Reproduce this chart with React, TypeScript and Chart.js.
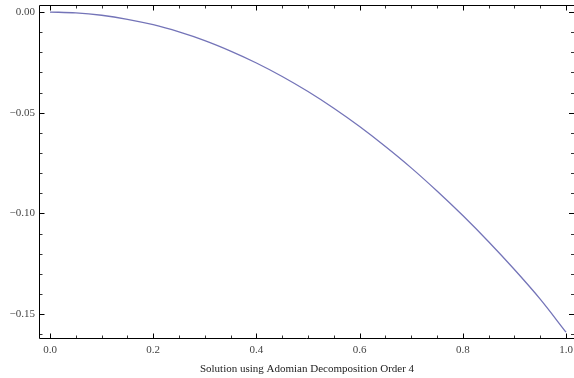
import { useEffect, useRef } from "react";
import { Chart, registerables } from "chart.js";

Chart.register(...registerables);

const xValues = [0, 0.05, 0.1, 0.15, 0.2, 0.25, 0.3, 0.35, 0.4, 0.45, 0.5, 0.55, 0.6, 0.65, 0.7, 0.75, 0.8, 0.85, 0.9, 0.95, 1.0];
const yValues = [0, -0.0004, -0.0016, -0.0036, -0.0063, -0.0099, -0.0142, -0.0194, -0.0253, -0.032, -0.0395, -0.0478, -0.0569, -0.0668, -0.0774, -0.0889, -0.1011, -0.1141, -0.1279, -0.1426, -0.159];

const xMajorTicks = [0, 0.2, 0.4, 0.6, 0.8, 1.0];
const xMinorTicks = [0.05, 0.1, 0.15, 0.25, 0.3, 0.35, 0.45, 0.5, 0.55, 0.65, 0.7, 0.75, 0.85, 0.9, 0.95];
const yMajorTicks = [0, -0.05, -0.1, -0.15];
const yMinorTicks = [-0.01, -0.02, -0.03, -0.04, -0.06, -0.07, -0.08, -0.09, -0.11, -0.12, -0.13, -0.14, -0.16];

const xAxisTitle = "Solution using Adomian Decomposition Order 4";

const fmt = (v: number, d: number) => {
  const s = Math.abs(v) < 1e-9 ? (0).toFixed(d) : v.toFixed(d);
  return s.replace("-", "\u2212");
};

const framePlugin = {
  id: "frame",
  afterDraw(chart: any) {
    const { ctx, chartArea } = chart;
    const xs = chart.scales.x;
    const ys = chart.scales.y;
    const L = Math.round(chartArea.left) - 0.5;
    const T = Math.round(chartArea.top) + 0.5;
    const B = Math.round(chartArea.bottom) - 0.5;
    const R = chart.width;
    ctx.save();
    ctx.strokeStyle = "#000";
    ctx.lineWidth = 1;
    ctx.beginPath();
    ctx.moveTo(L, T);
    ctx.lineTo(R, T);
    ctx.moveTo(L, T);
    ctx.lineTo(L, B);
    ctx.lineTo(R, B);
    ctx.stroke();

    const drawX = (vals: number[], len: number) => {
      vals.forEach((v) => {
        const p = Math.round(xs.getPixelForValue(v)) + 0.5;
        ctx.moveTo(p, B);
        ctx.lineTo(p, B - len);
        ctx.moveTo(p, T);
        ctx.lineTo(p, T + len);
      });
    };
    const drawY = (vals: number[], len: number) => {
      vals.forEach((v) => {
        const p = Math.round(ys.getPixelForValue(v)) + 0.5;
        ctx.moveTo(L, p);
        ctx.lineTo(L + len, p);
        ctx.moveTo(R, p);
        ctx.lineTo(R - len, p);
      });
    };
    ctx.beginPath();
    ctx.lineWidth = 1;
    drawX(xMajorTicks, 5);
    drawY(yMajorTicks, 5);
    ctx.stroke();
    ctx.beginPath();
    ctx.lineWidth = 0.8;
    drawX(xMinorTicks, 3);
    drawY(yMinorTicks, 3);
    ctx.stroke();
    ctx.restore();
  },
};

export default function App() {
  const ref = useRef<HTMLCanvasElement | null>(null);

  useEffect(() => {
    document.body.style.margin = "0";
    const canvas = ref.current;
    if (!canvas) return;
    const font = { family: "'Liberation Serif', 'Times New Roman', serif", size: 11 };
    const chart = new Chart(canvas, {
      type: "scatter",
      data: {
        datasets: [
          {
            data: xValues.map((x, i) => ({ x, y: yValues[i] })),
            showLine: true,
            borderColor: "#7474b8",
            borderWidth: 1.3,
            pointRadius: 0,
            cubicInterpolationMode: "monotone",
            fill: false,
          },
        ],
      },
      options: {
        responsive: false,
        animation: false,
        devicePixelRatio: 1,
        layout: { padding: { top: 5, right: 0, left: 0, bottom: 0 } },
        plugins: { legend: { display: false }, tooltip: { enabled: false } },
        scales: {
          x: {
            type: "linear",
            min: -0.0194,
            max: 1.0155,
            grid: { display: false, drawTicks: false },
            border: { display: false },
            afterBuildTicks: (s: any) => {
              s.ticks = xMajorTicks.map((v) => ({ value: v }));
            },
            afterFit: (s: any) => {
              s.height = 39;
              s.paddingLeft = 0;
              s.paddingRight = 0;
            },
            ticks: {
              padding: 5,
              color: "#444",
              font,
              maxRotation: 0,
              autoSkip: false,
              callback: (v: any) => fmt(Number(v), 1),
            },
            title: {
              display: true,
              text: xAxisTitle,
              color: "#222",
              font,
              padding: { top: 4, bottom: 2 },
            },
          },
          y: {
            type: "linear",
            min: -0.1624,
            max: 0.0035,
            grid: { display: false, drawTicks: false },
            border: { display: false },
            afterBuildTicks: (s: any) => {
              s.ticks = yMajorTicks.map((v) => ({ value: v }));
            },
            afterFit: (s: any) => {
              s.width = 40;
              s.paddingTop = 0;
              s.paddingBottom = 0;
            },
            ticks: {
              padding: 5,
              color: "#444",
              font,
              autoSkip: false,
              callback: (v: any) => fmt(Number(v), 2),
            },
          },
        },
      },
      plugins: [framePlugin],
    } as any);
    return () => chart.destroy();
  }, []);

  return (
    <div style={{ width: 574, height: 378 }}>
      <canvas ref={ref} width={574} height={378} style={{ display: "block", width: 574, height: 378 }} />
    </div>
  );
}
